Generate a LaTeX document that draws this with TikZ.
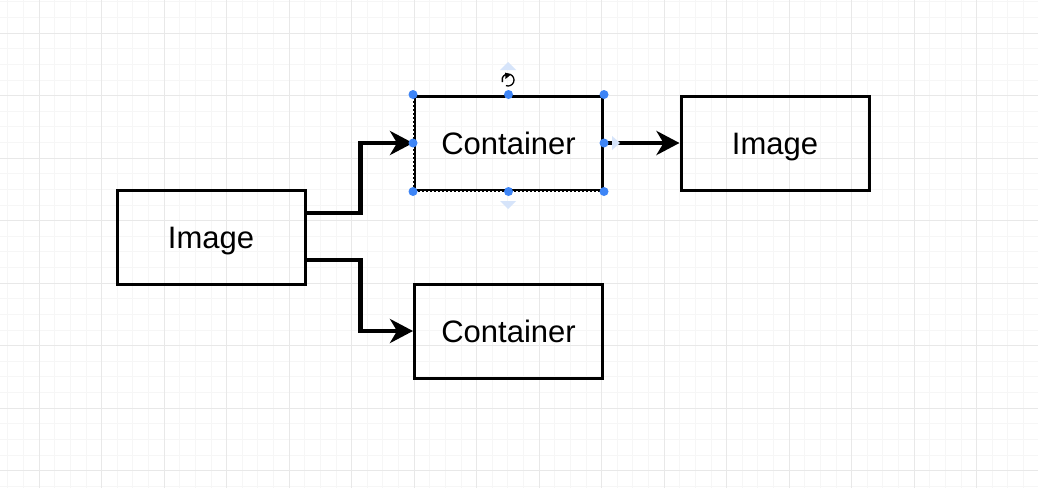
\documentclass[tikz,border=0pt]{standalone}
\usepackage{fontspec}
\setmainfont{Liberation Sans}
\usetikzlibrary{arrows.meta,positioning}

\definecolor{gridminor}{RGB}{246,246,246}
\definecolor{gridmajor}{RGB}{232,232,232}
\definecolor{handle}{RGB}{62,133,246}
\definecolor{hint}{RGB}{214,228,250}

\tikzset{
  box/.style={draw, line width=3pt, minimum width=188pt, minimum height=94pt,
    inner sep=0pt, text height=22pt, text depth=0pt, font=\fontsize{31}{36}\selectfont},
  conn/.style={line width=4.5pt, -{Stealth[length=23pt,width=24pt,inset=7pt]}},
  dot/.style={circle, fill=handle, minimum size=9pt, inner sep=0pt}
}

\begin{document}
\begin{tikzpicture}[x=1pt,y=-1pt]
  \fill[white] (0,0) rectangle (1038,488);
  \useasboundingbox (0,0) rectangle (1038,488);
  % grid
  \foreach \x in {7.75,23.375,...,1038} \draw[gridminor, line width=0.7pt] (\x,0) -- (\x,488);
  \foreach \y in {1.75,17.375,...,488} \draw[gridminor, line width=0.7pt] (0,\y) -- (1038,\y);
  \foreach \x in {39,101.5,...,1038} \draw[gridmajor, line width=0.7pt] (\x,0) -- (\x,488);
  \foreach \y in {33,95.5,...,488} \draw[gridmajor, line width=0.7pt] (0,\y) -- (1038,\y);

  \node[box] at (211,237) (img1) {Image};
  \node[box] at (508.5,143) (cont1) {Container};
  \node[box] at (508.5,331) (cont2) {Container};
  \node[box] at (775,143) (img2) {Image};

  \draw[conn] ([yshift=24pt]img1.east) -- ++(54,0) |- (cont1.west);
  \draw[conn] ([yshift=-23pt]img1.east) -- ++(54,0) |- (cont2.west);
  \draw[conn] (cont1) -- (img2);

  % selection of the upper container
  \draw[white, line width=0.8pt, dash pattern=on 2pt off 2pt] (cont1.north west) rectangle (cont1.south east);
  \foreach \a in {north west,north,north east,west,east,south west,south,south east}
    \node[dot] at (cont1.\a) {};
  \fill[hint] (500,70) -- (516,70) -- (508,62) -- cycle;
  \fill[hint] (500,201) -- (516,201) -- (508,209) -- cycle;
  \fill[hint] (612,136) -- (612,150) -- (620,143) -- cycle;
  \draw[line width=1.3pt] (508,80) ++(110:6) arc (110:-200:6);
  \fill (505,72.5) -- (511,74.5) -- (505.5,79) -- cycle;
\end{tikzpicture}
\end{document}
